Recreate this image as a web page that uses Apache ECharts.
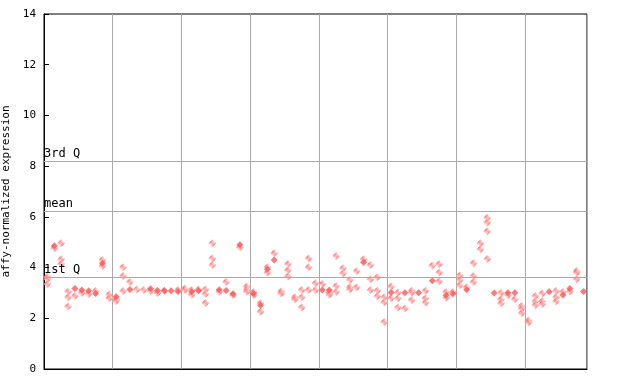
<!DOCTYPE html>
<html><head><meta charset="utf-8">
<script src="https://cdn.jsdelivr.net/npm/echarts@6/dist/echarts.min.js"></script>
<style>html,body{margin:0;padding:0;background:#fff}#c{width:640px;height:384px}</style>
</head><body><div id="c"></div>
<script>
// one entry per sample (x = index + 0.5)
const filledVals = [null,4.86,null,null,3.17,3.12,3.09,2.98,4.17,null,
  2.85,null,3.14,null,null,3.16,3.10,3.10,3.09,3.06,
  null,3.05,3.09,null,null,3.13,3.10,2.97,4.90,null,
  2.98,2.51,3.93,4.30,null,null,null,null,null,null,
  3.12,3.12,null,null,null,null,4.21,null,null,null,
  3.02,null,3.01,null,3.01,null,3.48,null,2.91,2.97,
  null,3.13,null,null,null,3.00,null,3.01,3.01,null,
  null,null,null,3.05,null,2.92,3.17,null,3.06];
const openVals = [[3.64,3.55,3.35],[4.76],[4.96,4.33,4.14],[3.05,2.83,2.46],[2.88],[3.0],[2.96],[3.08],[4.30,4.06],[2.94,2.79],
  [2.75,2.68],[4.01,3.67,3.08],[3.43],[3.14],[3.12],[3.08],[3.00],[3.08],[],[3.12],
  [3.17,3.12],[3.12,2.93],[3.14],[3.14,2.96,2.60],[4.96,4.36,4.10],[3.05],[3.43],[2.91],[4.80],[3.25,3.14,3.05],
  [3.04,2.91],[2.59,2.26],[4.01,3.80],[4.56],[3.06,2.98],[4.14,3.89,3.65],[2.83,2.75],[3.12,2.83,2.43],[4.36,4.01,3.12],[3.38,3.12],
  [3.35],[3.01,2.93],[4.46,3.27,3.04],[3.97,3.77],[3.51,3.22,3.14],[3.86,3.22],[4.33],[4.10,3.54,3.12],[3.62,3.09,2.87],[2.83,2.63,1.85],
  [3.25,2.79],[3.02,2.79,2.43],[2.39],[3.09,3.01,2.72],[],[3.09,2.79,2.62],[4.08],[4.14,3.81,3.46],[3.04,2.81],[3.04],
  [3.69,3.50,3.30],[3.22],[4.17,3.67,3.43],[4.96,4.72],[5.96,5.78,5.43,4.34],[],[3.00,2.75,2.59],[2.91],[2.75],[2.48,2.38,2.20],
  [1.91,1.83],[2.88,2.66,2.52],[2.98,2.67,2.56],[],[3.08,2.83,2.67],[3.04],[3.06],[3.86,3.80,3.54],[]];
const refLines = [{name:'1st Q', value:3.62},{name:'mean', value:6.23},{name:'3rd Q', value:8.21}];
const yTicks = [0,2,4,6,8,10,12,14];
const sampleCount = 79;

const filledData = [];
filledVals.forEach((v,i)=>{ if(v!==null) filledData.push([i+0.5, v]); });
const openData = [];
openVals.forEach((arr,i)=>{ arr.forEach(v=>openData.push([i+0.5, v])); });

const pc = document.createElement('canvas');
pc.width = 2; pc.height = 2;
const pctx = pc.getContext('2d');
pctx.fillStyle = '#ffffff'; pctx.fillRect(0,0,2,2);
pctx.fillStyle = '#ff4444'; pctx.fillRect(0,0,1,1); pctx.fillRect(1,1,1,1);

const font = 'DejaVu Sans Mono';
const chart = echarts.init(document.getElementById('c'), null, {renderer:'canvas'});
chart.setOption({
  animation:false,
  grid:{left:44, right:53, top:14, bottom:15, show:true, borderColor:'#000', borderWidth:1, backgroundColor:'transparent', containLabel:false, outerBoundsMode:'none'},
  xAxis:{type:'value', min:0, max:sampleCount, interval:10,
    axisLine:{show:true, lineStyle:{color:'#000'}}, axisTick:{show:false}, axisLabel:{show:false},
    splitLine:{show:true, lineStyle:{color:'#aaaaaa', width:1}}},
  yAxis:{type:'value', min:yTicks[0], max:yTicks[yTicks.length-1], interval:2,
    name:'affy-normalized expression', nameLocation:'middle', nameGap:28,
    nameTextStyle:{fontFamily:font, fontSize:11, color:'#000'},
    axisLine:{show:true, lineStyle:{color:'#000'}},
    axisTick:{show:true, inside:true, length:5, lineStyle:{color:'#000'}},
    axisLabel:{fontFamily:font, fontSize:11, color:'#000', margin:8},
    splitLine:{show:false}},
  series:[
    {type:'scatter', data:openData, symbol:'diamond', symbolSize:8,
      itemStyle:{color:{image:pc, repeat:'repeat'}}, z:3,
      markLine:{silent:true, symbol:'none', animation:false,
        lineStyle:{color:'#aaaaaa', type:'solid', width:1},
        label:{position:'insideStartTop', formatter:p=>p.name, color:'#000', fontFamily:font, fontSize:12, distance:[0,1], padding:0},
        data:refLines.map(r=>({name:r.name, yAxis:r.value}))}},
    {type:'scatter', data:filledData, symbol:'diamond', symbolSize:7,
      itemStyle:{color:'#ff5555'}, z:4}
  ]
});
</script></body></html>
